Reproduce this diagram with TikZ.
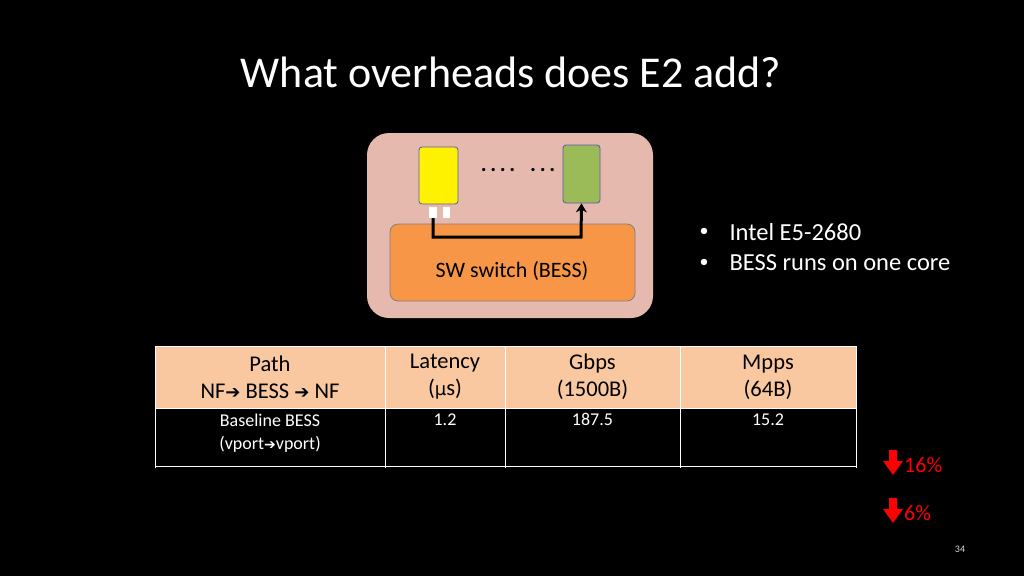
\documentclass[tikz,border=0pt]{standalone}
\usepackage{fontspec}
\setmainfont{Carlito}
\newfontfamily\symfont{DejaVu Sans}
\usetikzlibrary{arrows.meta}
\definecolor{boxpink}{HTML}{E6B9AE}
\definecolor{switchorange}{HTML}{F79646}
\definecolor{nfgreen}{HTML}{9BBB59}
\definecolor{headpeach}{HTML}{FAC8A0}
\newcommand\rarr[1]{{\symfont\fontsize{#1}{#1}\selectfont ➔}}
\begin{document}
\begin{tikzpicture}
  [
    x=1pt, y=-1pt,
    nf box/.style = {draw=gray!70!blue, rounded corners=3, thick},
    port/.style = {fill=white, draw=none},
    cell/.style = {align=center, font=\fontsize{22.5}{27}\selectfont, text=black},
    body cell/.style = {align=center, font=\fontsize{18}{23}\selectfont, text=white, anchor=north},
    bullet/.style = {anchor=west, text=white, font=\fontsize{24.5}{28}\selectfont},
    drop/.style = {anchor=west, text=red, font=\fontsize{22}{24}\selectfont, inner sep=0},
    down arrow/.style = {fill=red},
    grid line/.style = {white, line width=1pt},
  ]
  \fill[black] (0,0) rectangle (1024,576);

  % title
  \node (title) [text=white, font=\fontsize{44}{50}\selectfont] at (511,72) {What overheads does E2 add?};

  % server with NFs and switch
  \node (server) [fill=boxpink, rounded corners=22, minimum width=286, minimum height=185] at (510,225.5) {};
  \node (switch) [fill=switchorange, draw=gray, thick, rounded corners=8, minimum width=245, minimum height=77] at (512.5,262.5) {};
  \node (swlabel) [font=\fontsize{22}{24}\selectfont] at (512,271) {SW switch (BESS)};
  \node (nf1) [nf box, fill=yellow, minimum width=39, minimum height=57] at (438.5,175.5) {};
  \node (nf2) [nf box, fill=nfgreen, minimum width=37, minimum height=58] at (581.5,174) {};
  \node (portA) [port, minimum width=8, minimum height=11, inner sep=0] at (433,212.5) {};
  \node (portB) [port, minimum width=7, minimum height=11, inner sep=0] at (446.5,212.5) {};
  \node (dots) [font=\fontsize{22}{24}\selectfont\bfseries] at (518,170) {.\,.\,.\,.\ \ \ .\,.\,.};
  \coordinate (bend1) at (433,237);
  \coordinate (bend2) at (581,237);
  \draw[line width=3pt, -{Stealth[length=9pt,width=11pt]}] (portA.south) -- (bend1) -- (bend2) -- (nf2.south);

  % bullets
  \node (b1) [bullet] at (726,232) {Intel E5-2680};
  \node (b2) [bullet] at (726,263) {BESS runs on one core};
  \node (d1) [text=white, font=\fontsize{18}{20}\selectfont] at (704,232) {•};
  \node (d2) [text=white, font=\fontsize{18}{20}\selectfont] at (704,263) {•};

  % table
  \fill[headpeach] (155,346) rectangle (856,408);
  \foreach \xx in {155,385,505,680,856}
    \draw[grid line] (\xx,346) -- (\xx,468);
  \draw[grid line] (155,346) -- (856,346);
  \draw[grid line] (155,408) -- (856,408);
  \draw[grid line] (155,466) -- (856,466);
  \node (hpath) [cell] at (270,377) {Path\\NF\rarr{18} BESS \rarr{18} NF};
  \node (hlat)  [cell] at (445,377) {Latency\\({\symfont\fontsize{18}{18}\selectfont µ}s)};
  \node (hgbps) [cell] at (592.5,377) {Gbps\\(1500B)};
  \node (hmpps) [cell] at (768,377) {Mpps\\(64B)};
  \node (bpath) [body cell] at (270,410) {Baseline BESS\\(vport\rarr{14}vport)};
  \node (blat)  [body cell] at (445,410) {1.2};
  \node (bgbps) [body cell] at (592.5,410) {187.5};
  \node (bmpps) [body cell] at (768,410) {15.2};

  % drops
  \foreach \yy/\val [count=\i] in {464/16, 512/6} {
    \fill[down arrow] (889,\yy-14) -- (897,\yy-14) -- (897,\yy-3) -- (903,\yy-3)
      -- (893,\yy+11) -- (883,\yy-3) -- (889,\yy-3) -- cycle;
    \node (drop\i) [drop] at (904,\yy+1) {\val\%};
  }

  \node (page) [text=white!85!black, font=\fontsize{10}{12}\selectfont] at (960,549) {34};
\end{tikzpicture}
\end{document}
